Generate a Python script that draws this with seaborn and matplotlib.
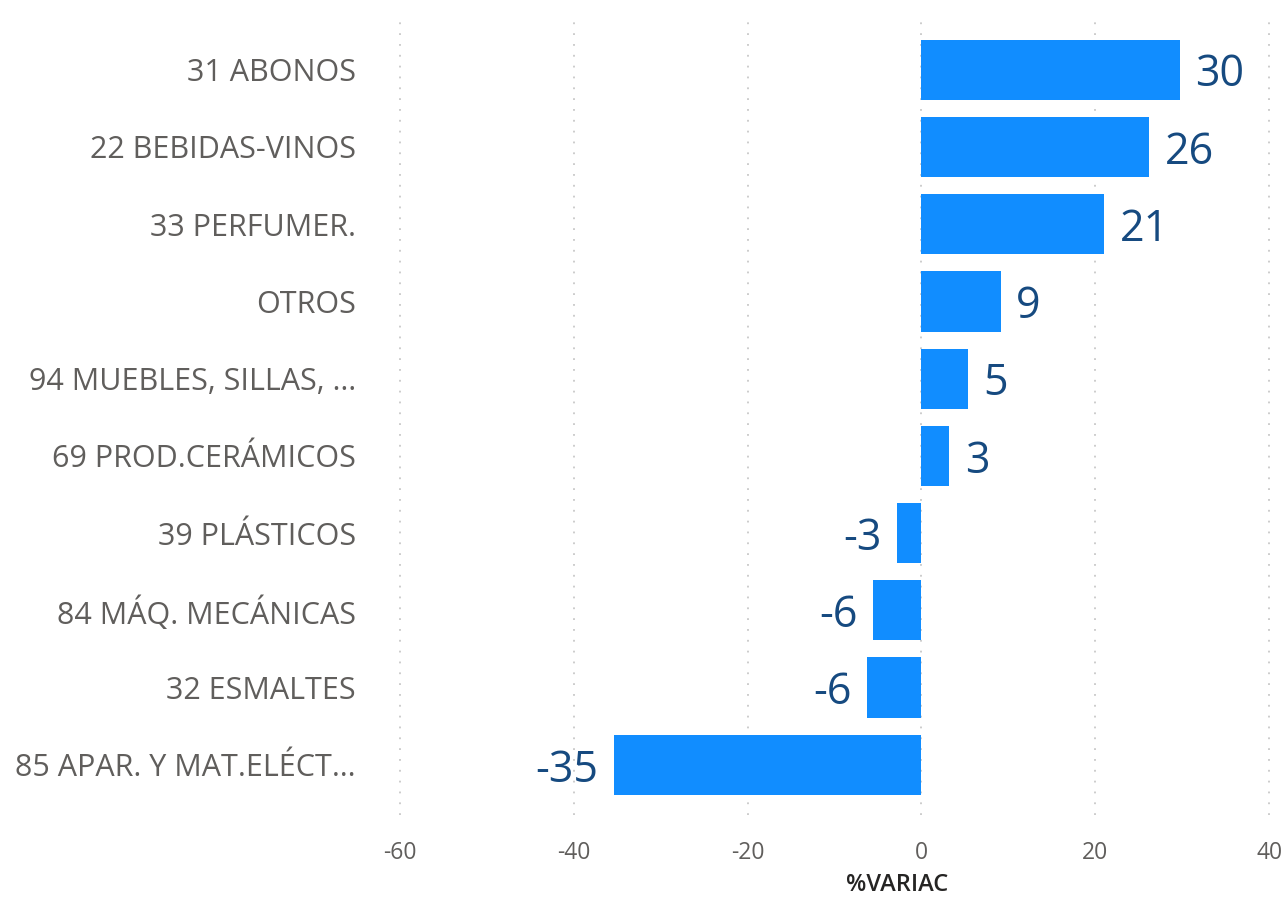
import seaborn as sns
import matplotlib.pyplot as plt

categories = [
    "31 ABONOS",
    "22 BEBIDAS-VINOS",
    "33 PERFUMER.",
    "OTROS",
    "94 MUEBLES, SILLAS, …",
    "69 PROD.CERÁMICOS",
    "39 PLÁSTICOS",
    "84 MÁQ. MECÁNICAS",
    "32 ESMALTES",
    "85 APAR. Y MAT.ELÉCT…",
]
variac = [29.7, 26.2, 21.0, 9.1, 5.4, 3.2, -2.8, -5.6, -6.3, -35.4]
x_ticks = [-60, -40, -20, 0, 20, 40]

sns.set_style("white")
plt.rcParams["font.family"] = ["Open Sans", "DejaVu Sans"]

fig = plt.figure(figsize=(12.87, 9), dpi=100)
ax = fig.add_axes([370 / 1287, 1 - 815 / 900, (1272 - 370) / 1287, (815 - 18) / 900])

sns.barplot(x=variac, y=categories, color="#118DFF", width=0.78, ax=ax,
            orient="h", zorder=3, saturation=1, linewidth=0)

labels = ax.bar_label(ax.containers[0], fmt="%.0f", padding=11, fontsize=31,
                      color="#164A80")
for t in labels:
    t.set_y(t.get_position()[1])
    t.set_va("center_baseline")

ax.set_xlim(-63.4, 40.3)
ax.set_ylim(9.65, -0.67)
ax.set_xticks(x_ticks)
ax.set_xticklabels([str(t) for t in x_ticks])
ax.xaxis.grid(True, color="#C8C8C8", linestyle=(0, (1, 5)), linewidth=1.3, zorder=0)
ax.yaxis.grid(False)
for s in ax.spines.values():
    s.set_visible(False)
ax.tick_params(axis="x", length=0, labelsize=16.5, labelcolor="#605E5C", pad=19)
ax.tick_params(axis="y", length=0, labelsize=22, labelcolor="#605E5C", pad=10)

ax.set_xlabel("%VARIAC", fontsize=17, color="#252423", fontweight="semibold")
ax.xaxis.set_label_coords((897 - 370) / (1272 - 370), -0.073)
ax.set_ylabel("")

fig.savefig("out.png", dpi=100)
